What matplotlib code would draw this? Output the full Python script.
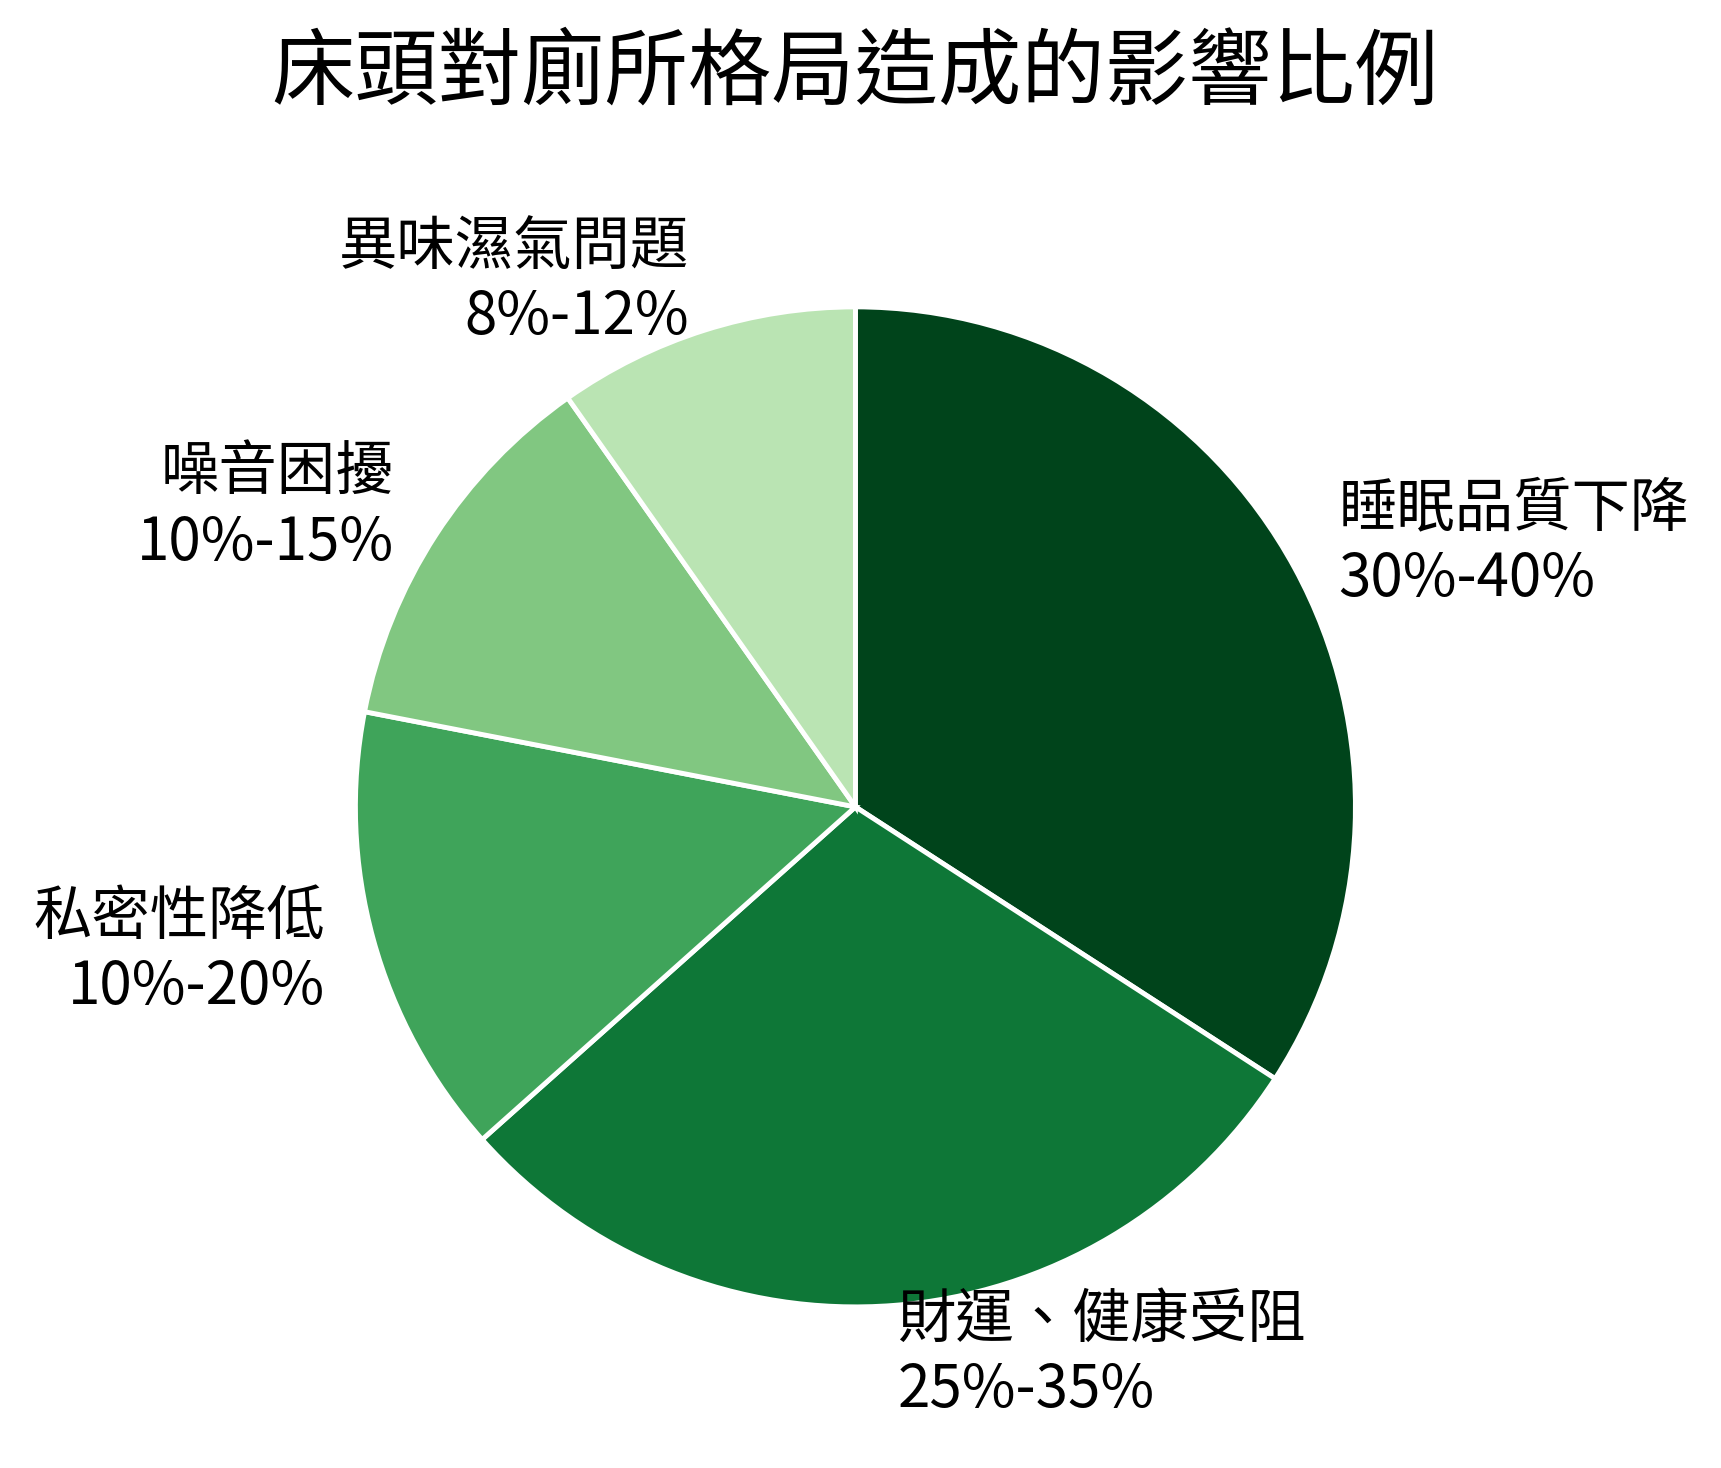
import matplotlib
matplotlib.use('Agg')
import matplotlib.pyplot as plt

plt.rcParams['font.family'] = ['Noto Sans CJK TC', 'DejaVu Sans']

# data (midpoints of the ranges)
categories = ['睡眠品質下降', '財運、健康受阻', '私密性降低', '噪音困擾', '異味濕氣問題']
ranges = ['30%-40%', '25%-35%', '10%-20%', '10%-15%', '8%-12%']
values = [35, 30, 15, 12.5, 10]
colors = ['#00441b', '#0e7737', '#3fa45a', '#81c781', '#bae4b3']

labels = [c + '\n' + r for c, r in zip(categories, ranges)]

fig = plt.figure(figsize=(17.21, 14.68), dpi=100)
# pie radius ~500px, centre at (856, 809) from top-left
ax = fig.add_axes([0.1339, 0.0246, 0.7263, 0.8515])

ax.pie(values, labels=labels, colors=colors, startangle=90, counterclock=False,
       labeldistance=1.1,
       wedgeprops=dict(edgecolor='white', linewidth=3.5),
       textprops=dict(fontsize=42))
ax.set_xlim(-1.25, 1.25)
ax.set_ylim(-1.25, 1.25)
ax.set_aspect('equal')

fig.text(0.497, 0.950, '床頭對廁所格局造成的影響比例', ha='center', va='center', fontsize=60)

fig.savefig('out.png', dpi=100, facecolor='white')
